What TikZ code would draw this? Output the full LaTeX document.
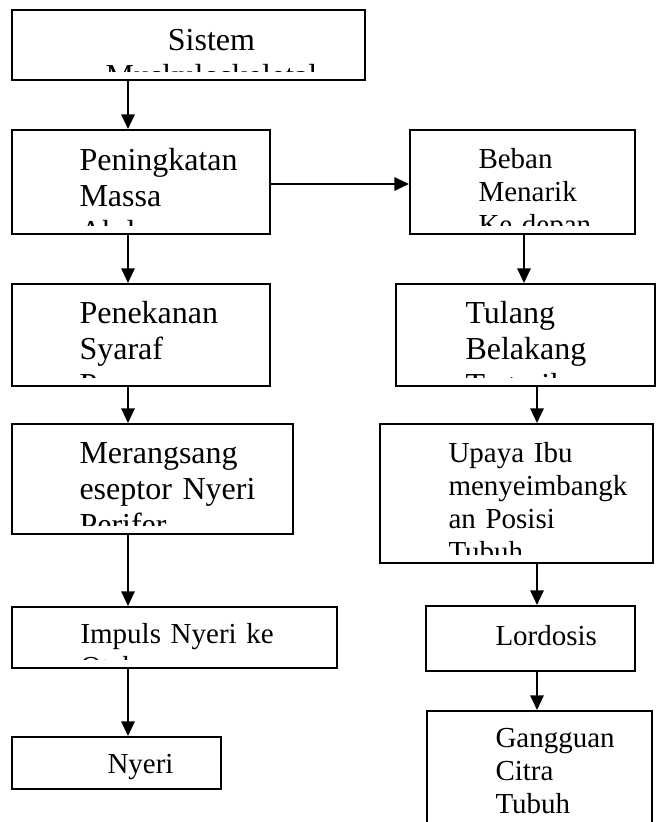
\documentclass[tikz,border=0pt]{standalone}
\usepackage{fontspec}
\setmainfont{Liberation Serif}
\usetikzlibrary{arrows.meta,fit,calc}

\tikzset{every picture/.style={line width=0.75pt}}
\tikzset{
  box/.style={draw, line width=1.5, inner sep=0pt},
  txt/.style={inner sep=0pt, text width=220pt, align=left, font=\fontsize{21.75}{24.75}\selectfont},
  bigtxt/.style={txt, font=\fontsize{24}{27}\selectfont},
  arr/.style={line width=1.5, -{Triangle[length=11pt,width=10pt]}}
}

\begin{document}
\begin{tikzpicture}[x=0.75pt,y=0.75pt,yscale=-1,xscale=1]
\useasboundingbox (0,0) rectangle (657,822);

%Shape: Rectangle (left column)
\node [box, fit={(12,10) (365,80)}] (sistem) {};
\node [box, fit={(12,130) (270,234)}] (peningkatan) {};
\node [box, fit={(12,284) (270,386)}] (penekanan) {};
\node [box, fit={(12,424) (293,534)}] (merangsang) {};
\node [box, fit={(12,607) (337,668)}] (impuls) {};
\node [box, fit={(12,737) (221,789)}] (nyeri) {};
%Shape: Rectangle (right column)
\node [box, fit={(410,130) (635,234)}] (beban) {};
\node [box, fit={(396,284) (655,386)}] (tulang) {};
\node [box, fit={(380,424) (653,563)}] (upaya) {};
\node [box, fit={(426,606) (635,671)}] (lordosis) {};
\node [box, fit={(427,711) (652,840)}] (gangguan) {};

% Text Node
\begin{scope}
\clip (sistem.north west) rectangle ($(sistem.south east)+(0,-10)$);
\node [bigtxt, anchor=base, align=center] (sistemtxt) at (211.5,50) {Sistem\\Muskuloskeletal};
\end{scope}
% Text Node
\begin{scope}
\clip (peningkatan.north west) rectangle ($(peningkatan.south east)+(0,-10)$);
\node [bigtxt, anchor=base west] (peningkatantxt) at (79,170) {Peningkatan\\Massa\\Abdomen};
\end{scope}
% Text Node
\begin{scope}
\clip (penekanan.north west) rectangle ($(penekanan.south east)+(0,-10)$);
\node [bigtxt, anchor=base west] (penekanantxt) at (79,323) {Penekanan\\Syaraf\\Punggung};
\end{scope}
% Text Node
\begin{scope}
\clip (merangsang.north west) rectangle ($(merangsang.south east)+(0,-10)$);
\node [bigtxt, anchor=base west] (merangsangtxt) at (79,463) {Merangsang\\eseptor Nyeri\\Perifer};
\end{scope}
% Text Node
\begin{scope}
\clip (impuls.north west) rectangle ($(impuls.south east)+(0,-10)$);
\node [txt, anchor=base west] (impulstxt) at (80,643) {Impuls Nyeri ke\\Otak};
\end{scope}
% Text Node
\node [txt, anchor=base west] (nyeritxt) at (107,773) {Nyeri};
% Text Node
\begin{scope}
\clip (beban.north west) rectangle ($(beban.south east)+(0,-10)$);
\node [txt, anchor=base west] (bebantxt) at (478,168) {Beban\\Menarik\\Ke depan};
\end{scope}
% Text Node
\begin{scope}
\clip (tulang.north west) rectangle ($(tulang.south east)+(0,-10)$);
\node [bigtxt, anchor=base west] (tulangtxt) at (465,323) {Tulang\\Belakang\\Tertarik};
\end{scope}
% Text Node
\begin{scope}
\clip (upaya.north west) rectangle ($(upaya.south east)+(0,-10)$);
\node [txt, anchor=base west] (upayatxt) at (448,462) {Upaya Ibu\\menyeimbangk\\an Posisi\\Tubuh};
\end{scope}
% Text Node
\node [txt, anchor=base west] (lordosistxt) at (495,645) {Lordosis};
% Text Node
\node [txt, anchor=base west] (gangguantxt) at (495,747) {Gangguan\\Citra\\Tubuh};

%Straight Lines
\coordinate (lx) at (128,0);
\coordinate (rxa) at (524,0);
\coordinate (rxb) at (537,0);
\coordinate (hy) at (0,184);
\draw [arr] (sistem.south -| lx) -- (peningkatan.north -| lx);
\draw [arr] (peningkatan.south -| lx) -- (penekanan.north -| lx);
\draw [arr] (penekanan.south -| lx) -- (merangsang.north -| lx);
\draw [arr] (merangsang.south -| lx) -- (impuls.north -| lx);
\draw [arr] (impuls.south -| lx) -- (nyeri.north -| lx);
\draw [arr] (peningkatan.east |- hy) -- (beban.west |- hy);
\draw [arr] (beban.south -| rxa) -- (tulang.north -| rxa);
\draw [arr] (tulang.south -| rxb) -- (upaya.north -| rxb);
\draw [arr] (upaya.south -| rxb) -- (lordosis.north -| rxb);
\draw [arr] (lordosis.south -| rxb) -- (gangguan.north -| rxb);

\end{tikzpicture}
\end{document}
